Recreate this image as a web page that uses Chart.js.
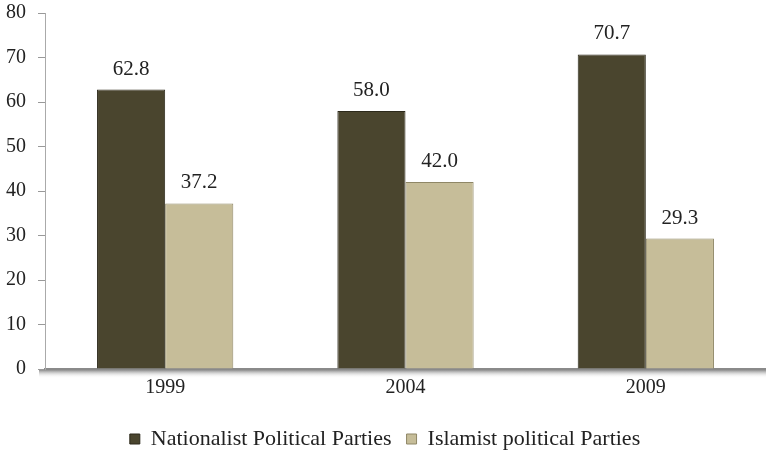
<!DOCTYPE html>
<html>
<head>
<meta charset="utf-8">
<script src="https://cdn.jsdelivr.net/npm/chart.js@4.4.0/dist/chart.umd.min.js"></script>
<style>
  html, body { margin: 0; padding: 0; background: #fff; }
  #wrap { width: 766px; height: 452px; }
</style>
</head>
<body>
<div id="wrap"><canvas id="chart"></canvas></div>
<script>
// election years and vote shares (%)
const years = ['1999', '2004', '2009'];
const nationalist = [62.8, 58.0, 70.7];
const islamist = [37.2, 42.0, 29.3];
const yTicks = [0, 10, 20, 30, 40, 50, 60, 70, 80];

const serif = '"Liberation Serif", "DejaVu Serif", serif';

// writes the value above each bar
const valueLabels = {
  id: 'valueLabels',
  afterDatasetsDraw(chart) {
    const ctx = chart.ctx;
    ctx.save();
    ctx.font = '21px ' + serif;
    ctx.fillStyle = '#222';
    ctx.textAlign = 'center';
    ctx.textBaseline = 'alphabetic';
    chart.data.datasets.forEach((ds, i) => {
      chart.getDatasetMeta(i).data.forEach((bar, j) => {
        ctx.fillText(ds.data[j].toFixed(1), bar.x, bar.y - 15);
      });
    });
    ctx.restore();
  }
};

// soft shadow under the category axis
const axisShadow = {
  id: 'axisShadow',
  afterDraw(chart) {
    const a = chart.chartArea;
    const ctx = chart.ctx;
    const g = ctx.createLinearGradient(0, a.bottom + 1, 0, a.bottom + 9);
    g.addColorStop(0, 'rgba(120,120,120,0.85)');
    g.addColorStop(1, 'rgba(255,255,255,0)');
    ctx.save();
    ctx.fillStyle = g;
    ctx.fillRect(a.left - 6, a.bottom + 1, chart.width - a.left + 6, 8);
    ctx.restore();
  }
};

new Chart(document.getElementById('chart'), {
  type: 'bar',
  data: {
    labels: years,
    datasets: [{
      label: 'Nationalist Political Parties',
      data: nationalist,
      backgroundColor: '#4a452e',
      borderColor: '#2c291b',
      borderWidth: 1
    }, {
      label: 'Islamist political Parties',
      data: islamist,
      backgroundColor: '#c6bd99',
      borderColor: '#8f8766',
      borderWidth: 1
    }]
  },
  options: {
    responsive: true,
    maintainAspectRatio: false,
    animation: false,
    layout: { padding: { top: 0, right: -4, left: 0, bottom: -8 } },
    datasets: {
      bar: { categoryPercentage: 0.567, barPercentage: 1.0 }
    },
    scales: {
      x: {
        afterFit(axis) { axis.height = 44; },
        grid: { display: false, drawTicks: false },
        border: { display: true, color: '#8a8a8a', width: 2 },
        ticks: { color: '#222', font: { family: serif, size: 20 }, padding: 7 }
      },
      y: {
        min: 0,
        max: 80,
        afterBuildTicks(axis) {
          axis.ticks = yTicks.map(v => ({ value: v }));
        },
        afterFit(axis) {
          axis.width = 45;
          axis.paddingTop = 13;
          axis.paddingBottom = 0;
        },
        grid: { drawOnChartArea: false, drawTicks: true, tickLength: 7, color: '#999' },
        border: { display: true, color: '#aaa', width: 1 },
        ticks: { color: '#222', font: { family: serif, size: 20 }, padding: 12 }
      }
    },
    plugins: {
      legend: {
        position: 'bottom',
        labels: {
          boxWidth: 10,
          boxHeight: 10,
          color: '#222',
          padding: 15,
          font: { family: serif, size: 22 }
        }
      },
      tooltip: { enabled: false }
    }
  },
  plugins: [valueLabels, axisShadow]
});
</script>
</body>
</html>
